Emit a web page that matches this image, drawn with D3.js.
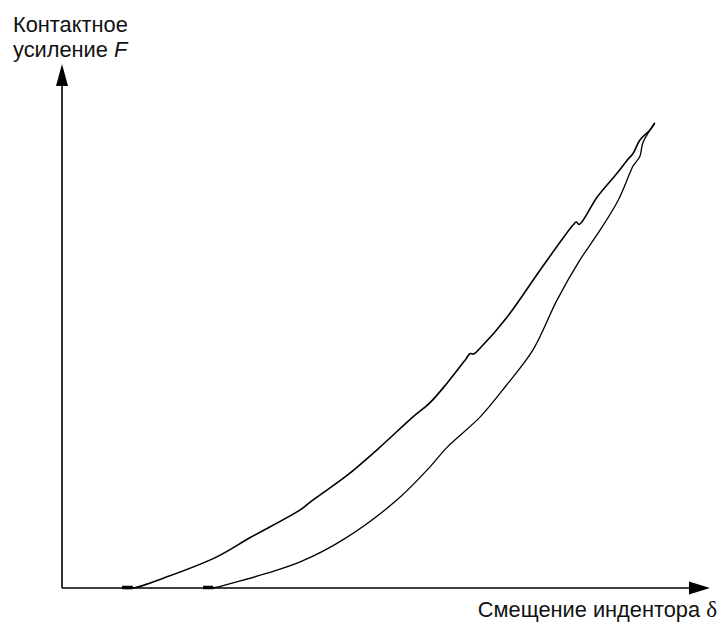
<!DOCTYPE html>
<html>
<head>
<meta charset="utf-8">
<script src="https://cdn.jsdelivr.net/npm/d3@7"></script>
<style>
  html, body { margin: 0; padding: 0; background: #fff; }
  svg { display: block; }
</style>
</head>
<body>
<svg id="chart" width="721" height="625"></svg>
<script>
// Data (displacement in arbitrary units, force in % of peak)
const loadX = [10, 11.8, 17.5, 25.8, 31.3, 39.7, 41.8, 47.5, 53, 58.5, 61.3, 64.2, 67.3, 68, 68.6, 69.7, 74.2, 79.7, 85.2, 85.7, 86.2, 89.2, 92.5, 94.2, 95.2, 96.3, 98, 98.8];
const loadF = [0, 0, 2.4, 6.7, 10.8, 16.8, 18.9, 24.2, 30.3, 36.8, 39.8, 44.1, 49.2, 50.4, 50.3, 51.6, 58.3, 68.4, 78.1, 78.7, 78.2, 84.1, 89.2, 92, 93.5, 96.3, 98.5, 100];
const unloadX = [23.5, 25.2, 28.5, 34.2, 39.7, 47, 55.8, 61.3, 64.2, 69.7, 74, 78.5, 82.5, 86.3, 89.7, 92.7, 94.7, 95.2, 96.3, 96.8, 98, 98.8];
const unloadF = [0, 0, 1.1, 3.2, 5.6, 10.5, 18.9, 26, 30.3, 36.8, 43.5, 51.2, 61.9, 70.5, 77, 83.4, 89.4, 90.8, 92.8, 95.7, 98.5, 100];
const contactStart = [10, 23.5];
const contactEnd = [11.8, 25.2];
const yLabelLines = ["Контактное", "усиление "];
const yLabelSymbol = "F";
const xLabelText = "Смещение индентора ";
const xLabelSymbol = "δ";

const svg = d3.select("#chart");
const x = d3.scaleLinear().domain([0, 100]).range([62, 662]);
const y = d3.scaleLinear().domain([0, 100]).range([588, 123]);
const xAxisEnd = 710, yAxisEnd = 64;

// Axes
svg.append("line").attr("x1", x(0)).attr("y1", y(0)).attr("x2", xAxisEnd - 20).attr("y2", y(0))
  .attr("stroke", "#000").attr("stroke-width", 1.6);
svg.append("line").attr("x1", x(0)).attr("y1", y(0)).attr("x2", x(0)).attr("y2", yAxisEnd + 20)
  .attr("stroke", "#000").attr("stroke-width", 1.6);
svg.append("path")
  .attr("d", `M${xAxisEnd},${y(0)} L${xAxisEnd - 21},${y(0) - 6.5} L${xAxisEnd - 21},${y(0) + 6.5} Z`)
  .attr("fill", "#000");
svg.append("path")
  .attr("d", `M${x(0)},${yAxisEnd} L${x(0) - 6},${yAxisEnd + 22} L${x(0) + 6},${yAxisEnd + 22} Z`)
  .attr("fill", "#000");

// Curves
const line = d3.line().curve(d3.curveCatmullRom.alpha(0.5)).x(d => x(d[0])).y(d => y(d[1]));
const loadData = loadX.map((v, i) => [v, loadF[i]]);
const unloadData = unloadX.map((v, i) => [v, unloadF[i]]);
svg.append("path").datum(loadData).attr("d", line)
  .attr("fill", "none").attr("stroke", "#000").attr("stroke-width", 1.6).attr("stroke-linejoin", "round");
svg.append("path").datum(unloadData).attr("d", line)
  .attr("fill", "none").attr("stroke", "#000").attr("stroke-width", 1.3).attr("stroke-linejoin", "round");
contactStart.forEach((s, i) => {
  svg.append("line").attr("x1", x(s)).attr("x2", x(contactEnd[i])).attr("y1", y(0) - 0.5).attr("y2", y(0) - 0.5)
    .attr("stroke", "#000").attr("stroke-width", 3.5);
});

// Labels
const font = "'Liberation Sans', Arial, sans-serif";
svg.append("text").attr("x", 13).attr("y", 32).attr("font-family", font).attr("font-size", 21.8)
  .attr("fill", "#111").text(yLabelLines[0]);
const t2 = svg.append("text").attr("x", 13).attr("y", 57).attr("font-family", font).attr("font-size", 21.8)
  .attr("fill", "#111");
t2.append("tspan").text(yLabelLines[1]);
t2.append("tspan").attr("font-style", "italic").text(yLabelSymbol);

const t3 = svg.append("text").attr("x", 717).attr("y", 617).attr("text-anchor", "end")
  .attr("font-family", font).attr("font-size", 21.8).attr("fill", "#111");
t3.append("tspan").text(xLabelText);
t3.append("tspan").attr("font-family", "'Liberation Serif', 'Times New Roman', serif").attr("font-size", 23).text(xLabelSymbol);
</script>
</body>
</html>
